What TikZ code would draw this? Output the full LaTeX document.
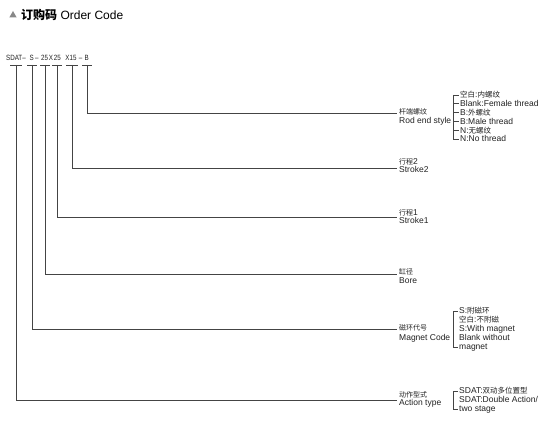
\documentclass[tikz,border=0pt]{standalone}
\usepackage{fontspec}
\setmainfont{Liberation Sans}
\newfontfamily\cjkfont{Noto Sans CJK SC}
\newfontfamily\codefont[FakeStretch=0.82]{Liberation Sans}
\newcommand\zh[1]{{\cjkfont\fontsize{7.5}{9}\selectfont #1}}
\newcommand\zl[1]{{\cjkfont\fontsize{7}{9}\selectfont #1}}
\definecolor{txt}{HTML}{222222}
\definecolor{lc}{HTML}{444444}
\definecolor{tri}{HTML}{888888}
\tikzset{
  lab/.style={anchor=base west, inner sep=0pt, text=txt, font=\fontsize{8.5}{9}\selectfont},
  codepart/.style={anchor=base, inner sep=0pt, text=txt, font=\codefont\fontsize{7.6}{8}\selectfont},
  ln/.style={draw=lc, line width=0.6pt},
}
\begin{document}
\begin{tikzpicture}[x=1pt,y=-1pt]
\useasboundingbox[fill=white] (0,0) rectangle (550,422);
% title
\fill[tri] (9.3,17.5) -- (16.7,17.5) -- (13,11) -- cycle;
\node[anchor=base west, inner sep=0pt, text=black, font=\fontsize{12}{12}\selectfont] (title) at (21,19.3)
  {{\cjkfont\bfseries\fontsize{12}{12}\selectfont 订购码} Order Code};
% code
\node[codepart] (c1) at (14.2,60.5) {SDAT};
\node[codepart] (d1) at (24.2,60.5) {–};
\node[codepart] (c2) at (31.8,60.5) {S};
\node[codepart] (d2) at (36.8,60.5) {–};
\node[codepart] (c3) at (44.6,60.5) {25};
\node[codepart] (x1) at (51,60.5) {X};
\node[codepart] (c4) at (57.4,60.5) {25};
\node[codepart] (c5) at (71,60.5) {X15};
\node[codepart] (d3) at (80.6,60.5) {–};
\node[codepart] (c6) at (86.6,60.5) {B};
% underlines (tee tops)
\foreach \x/\w [count=\i] in {16/6,32/5,45/5,57/5,72/6,87/5}{
  \draw[ln] (\x-\w,65) -- (\x+\w,65);
  \coordinate (u\i) at (\x,65);
}
% line end points
\coordinate (e1) at (397,400);
\coordinate (e2) at (397,329.5);
\coordinate (e3) at (397,274);
\coordinate (e4) at (397,217.5);
\coordinate (e5) at (397,168.5);
\coordinate (e6) at (397,113);
\draw[ln] (u1) |- (e1);
\draw[ln] (u2) |- (e2);
\draw[ln] (u3) |- (e3);
\draw[ln] (u4) |- (e4);
\draw[ln] (u5) |- (e5);
\draw[ln] (u6) |- (e6);
% labels
\node[lab] (rodzh) at (399,114.8) {\zl{杆端螺纹}};
\node[lab] (roden) at (399,123.8) {Rod end style};
\node[lab] (s2zh) at (399,164.5) {\zl{行程}2};
\node[lab] (s2en) at (399,172.3) {Stroke2};
\node[lab] (s1zh) at (399,216) {\zl{行程}1};
\node[lab] (s1en) at (399,223.8) {Stroke1};
\node[lab] (bozh) at (399,275) {\zl{缸径}};
\node[lab] (boen) at (399,283.5) {Bore};
\node[lab] (mgzh) at (399,330.8) {\zl{磁环代号}};
\node[lab] (mgen) at (399,340.5) {Magnet Code};
\node[lab] (aczh) at (399,397.8) {\zl{动作型式}};
\node[lab] (acen) at (399,405.8) {Action type};
% rod end items
\foreach \y/\t [count=\i] in {95/{\zh{空白}:\zh{内螺纹}},103.8/{Blank:Female thread},112.6/{B:\zh{外螺纹}},121.4/{B:Male thread},130.2/{N:\zh{无螺纹}},139/{N:No thread}}{
  \node[lab] (r\i) at (460,\y+3) {\t};
  \draw[ln] (453,\y) -- (458.5,\y);
}
\draw[ln] (453,95) -- (453,139);
% magnet items
\foreach \y/\t [count=\i] in {311/{S:\zh{附磁环}},320/{\zh{空白}:\zh{不附磁}},329/{S:With magnet},338/{Blank without},347/{magnet}}{
  \node[lab] (m\i) at (459,\y+3) {\t};
}
\draw[ln] (458,311) -- (453,311) -- (453,347) -- (458,347);
% action items
\foreach \y/\t [count=\i] in {391/{SDAT:\zh{双动多位置型}},400/{SDAT:Double Action/},409/{two stage}}{
  \node[lab] (a\i) at (459,\y+3) {\t};
}
\draw[ln] (458,391) -- (453,391) -- (453,409) -- (458,409);
\end{tikzpicture}
\end{document}
